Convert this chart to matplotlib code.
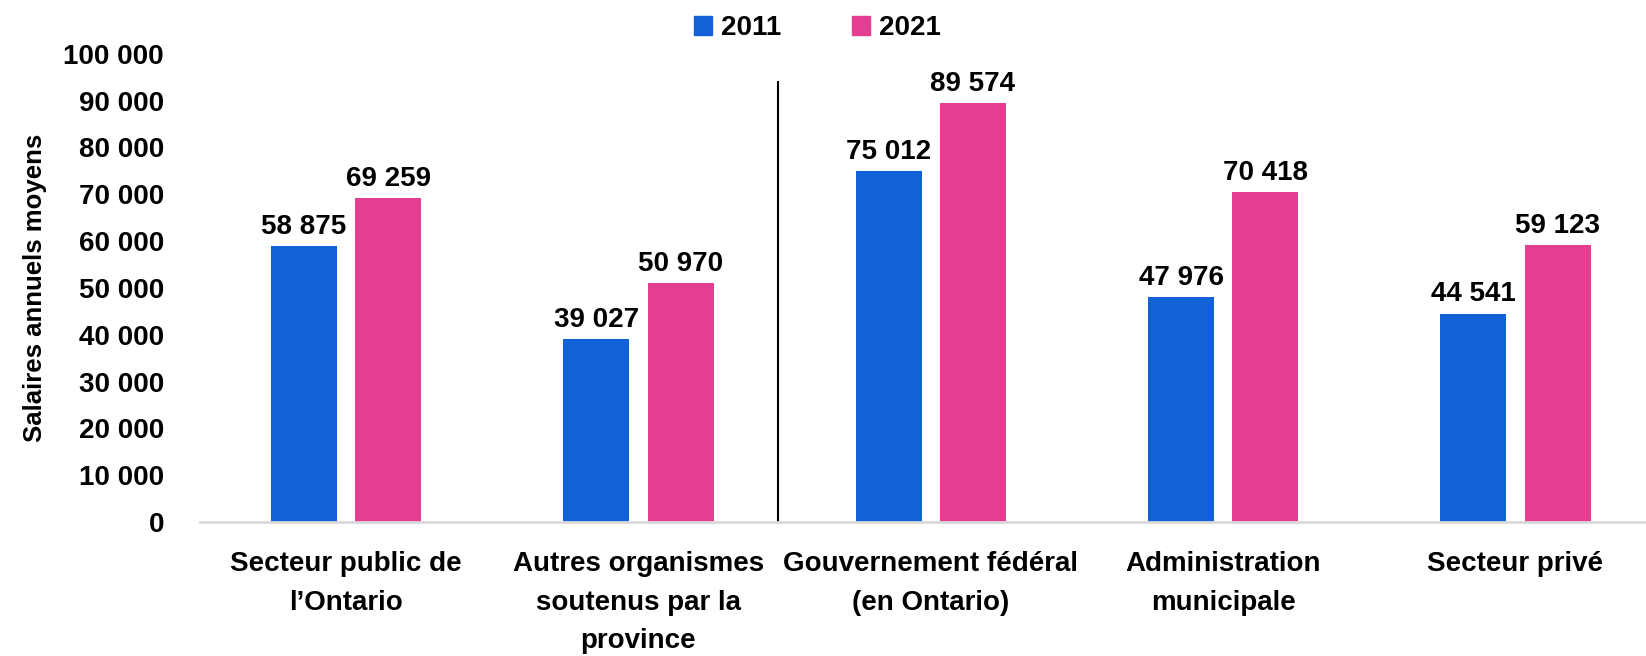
import matplotlib
matplotlib.use('Agg')
import matplotlib.pyplot as plt
from matplotlib import font_manager
from matplotlib.patches import Patch
import numpy as np

categories = ['Secteur public de\nl\u2019Ontario',
              'Autres organismes\nsoutenus par la\nprovince',
              'Gouvernement f\u00e9d\u00e9ral\n(en Ontario)',
              'Administration\nmunicipale',
              'Secteur priv\u00e9']
salaires_2011 = [58875, 39027, 75012, 47976, 44541]
salaires_2021 = [69259, 50970, 89574, 70418, 59123]
yticks = np.arange(0, 100001, 10000)

blue = '#1261D6'
pink = '#E33E92'

names = {f.name for f in font_manager.fontManager.ttflist}
narrow = 'Liberation Sans Narrow' if 'Liberation Sans Narrow' in names else 'Liberation Sans'

def fmt(v):
    return '{:,}'.format(int(v)).replace(',', ' ')

fig = plt.figure(figsize=(16.46, 6.56), dpi=100)
# the plot area runs past the right edge of the figure, as in the original
ax = fig.add_axes([0.1215, 0.204, 0.888, 0.714])

x = np.arange(len(categories))
w = 0.226
off = 0.144
b1 = ax.bar(x - off, salaires_2011, w, color=blue)
b2 = ax.bar(x + off, salaires_2021, w, color=pink)

for bars, vals in ((b1, salaires_2011), (b2, salaires_2021)):
    for r, v in zip(bars, vals):
        ax.text(r.get_x() + r.get_width() / 2, v + 1300, fmt(v),
                ha='center', va='bottom', fontsize=20, fontweight='bold',
                family=narrow)

# separator between provincial and other sectors
ax.plot([1.476, 1.476], [0, 94000], color='black', lw=1.5)

ax.set_xlim(-0.5, 4.5)
ax.set_ylim(0, 100000)
ax.set_yticks(yticks)
ax.set_yticklabels([fmt(v) for v in yticks], fontsize=20, fontweight='bold',
                   family=narrow)
ax.set_xticks(x)
ax.set_xticklabels(categories, fontsize=20, fontweight='bold', family=narrow,
                   linespacing=1.62, va='top')
ax.tick_params(axis='both', length=0)
ax.tick_params(axis='x', pad=21)
ax.tick_params(axis='y', pad=26)
for s in ['top', 'right', 'left']:
    ax.spines[s].set_visible(False)
ax.spines['bottom'].set_color('#D9D9D9')
ax.spines['bottom'].set_linewidth(2)

ax.set_ylabel('Salaires annuels moyens', fontsize=18.5, fontweight='bold',
              family='Liberation Sans')
ax.yaxis.set_label_coords(-0.105, 0.5)

handles = [Patch(color=blue, label='2011'), Patch(color=pink, label='2021')]
fig.legend(handles=handles, loc='center', bbox_to_anchor=(0.4964, 0.957),
           ncol=2, frameon=False, prop={'family': narrow, 'weight': 'bold', 'size': 20},
           handlelength=0.65, handleheight=0.65, columnspacing=2.55, handletextpad=0.32)

fig.savefig('out.png', dpi=100)
